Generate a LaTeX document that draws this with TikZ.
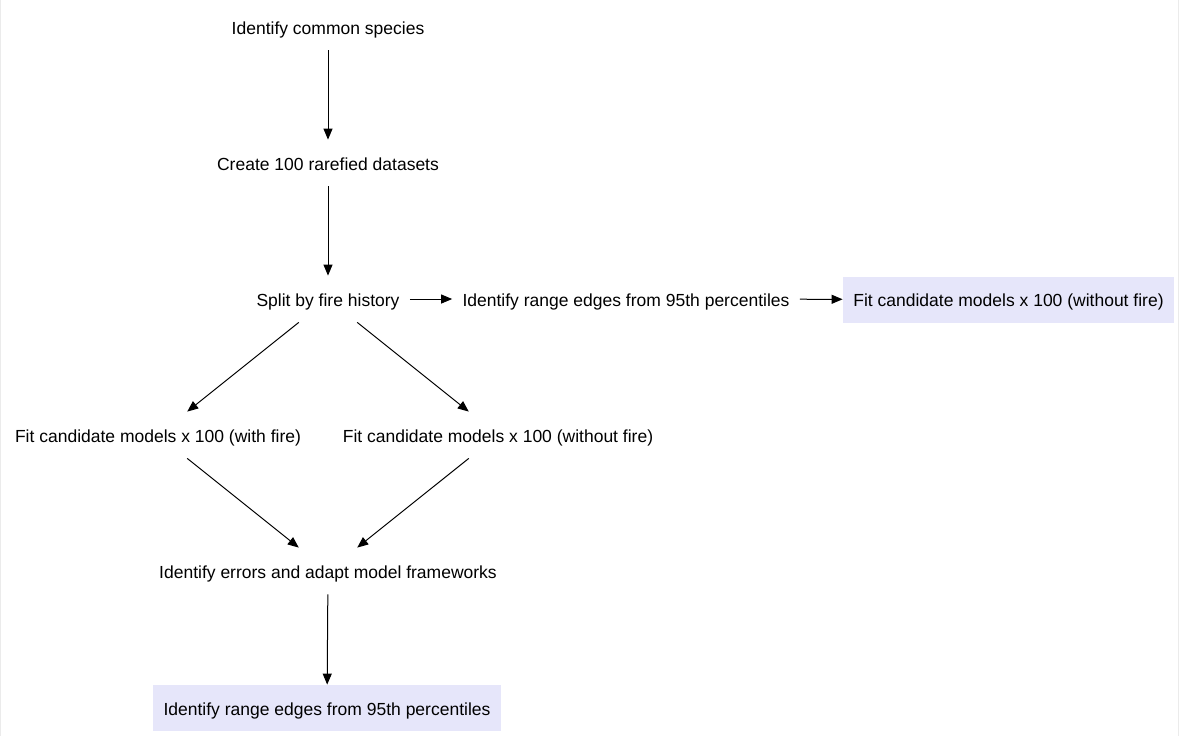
\documentclass[tikz,border=0pt]{standalone}
\usepackage{fontspec}
\setmainfont{Liberation Sans}
\usetikzlibrary{arrows.meta}
\definecolor{boxfill}{RGB}{230,230,250}
\tikzset{
	stage/.style={rectangle, minimum height=23pt, inner xsep=5pt, inner ysep=0pt, text height=7pt, text depth=0pt, font=\fontsize{8.75}{10}\selectfont},
	result/.style={stage, fill=boxfill},
	flow/.style={line width=0.5pt, -{Triangle[length=5.5pt,width=4.5pt]}}
}

\begin{document}
\begin{tikzpicture}[x=0.5pt, y=-0.5pt]
				\useasboundingbox (0, 0) rectangle (1179, 736);
				\draw[black!8] (0.5, 0) -- (0.5, 736);
				\draw[black!8] (1178.5, 0) -- (1178.5, 736);
				
				\node[stage] (common) at (328, 27) {Identify common species};
				\node[stage] (rarefied) at (328, 163) {Create 100 rarefied datasets};
				\node[stage] (split) at (328, 299) {Split by fire history};
				\node[stage] (edges) at (626, 299) {Identify range edges from 95th percentiles};
				\node[result, minimum width=165.5pt] (nofireA) at (1008.5, 299.5) {Fit candidate models x 100 (without fire)};
				
				\node[stage] (withfire) at (158, 435) {Fit candidate models x 100 (with fire)};
				\node[stage] (nofireB) at (498, 435) {Fit candidate models x 100 (without fire)};
				
				\node[stage] (errors) at (328, 571) {Identify errors and adapt model frameworks};
				\node[result, minimum width=174pt] (final) at (327, 708) {Identify range edges from 95th percentiles};
				
				\draw[flow] (common) -- (rarefied);
				\draw[flow] (rarefied) -- (split);
				\draw[flow] (split) -- (edges);
				\draw[flow] (edges) -- (nofireA);
				\draw[flow] (split) -- (withfire);
				\draw[flow] (split) -- (nofireB);
				\draw[flow] (withfire) -- (errors);
				\draw[flow] (nofireB) -- (errors);
				\draw[flow] (errors) -- (final);
			\end{tikzpicture}
\end{document}
